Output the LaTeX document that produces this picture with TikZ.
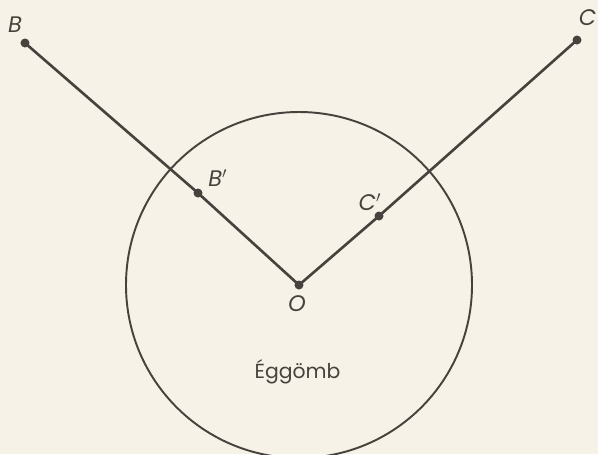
\documentclass[tikz,border=0pt]{standalone}
\usepackage{fontspec}
\setmainfont{Poppins}
\usepackage{xcolor}
\definecolor{colPaper}{RGB}{246,242,231}
\definecolor{colInk}{RGB}{72,66,62}
\usepackage{tikz}
\usetikzlibrary{positioning}
\tikzset{
  pt/.style={circle, fill=colInk, inner sep=0pt, minimum size=0.18cm},
  ray/.style={colInk, line width=1.5pt},
  lbl/.style={font=\fontsize{12.8}{14}\selectfont\itshape, text=colInk, inner sep=0pt}
}

\begin{document}
\begin{tikzpicture}
	\fill[colPaper] (-5.98,-3.38) rectangle (5.98,5.7);
	\useasboundingbox (-5.98,-3.38) rectangle (5.98,5.7);
	% Eggomb
	\draw[colInk, line width=1.1pt] (0,0) circle (3.46);
	\node[pt] (O) at (0,0) {};
	\node[pt] (Bp) at (-2.02,1.84) {};
	\node[pt] (B) at (-5.48,4.84) {};
	\node[pt] (Cp) at (1.6,1.38) {};
	\node[pt] (C) at (5.56,4.9) {};
	\draw[ray] (B.center) -- (Bp.center) -- (O.center) -- (Cp.center) -- (C.center);
	% feliratok
	\node[lbl] (lblB) at (-5.68,5.2) {B};
	\node[lbl] (lblBp) at (-1.62,2.14) {B$'$};
	\node[lbl, anchor=east] (lblC) at (5.95,5.34) {C};
	\node[lbl] (lblCp) at (1.42,1.66) {C$'$};
	\node[lbl] (lblO) at (-0.04,-0.38) {O};
	\node[lbl, font=\fontsize{11.6}{13}\selectfont] (lblGomb) at (-0.03,-1.74) {Éggömb};
\end{tikzpicture}
\end{document}
